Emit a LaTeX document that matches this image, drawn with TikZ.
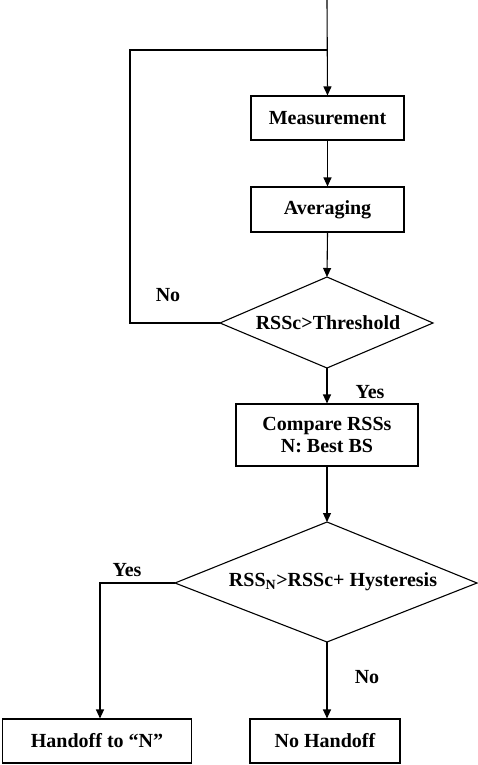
\documentclass[tikz,border=0pt]{standalone}
\usepackage{fontspec}
\setmainfont{Liberation Serif}
\usetikzlibrary{arrows.meta,shapes.geometric}
\begin{document}
\begin{tikzpicture}[x=1pt,y=-1pt,
  every node/.style={font=\fontsize{20}{22}\selectfont\bfseries},
  box/.style={draw,line width=1.1pt,rectangle,inner sep=0pt},
  lbl/.style={inner sep=0pt},
  line/.style={line width=1.1pt},
  arr/.style={line width=1.1pt,-{Triangle[length=9pt,width=8pt]}}]
\useasboundingbox (0,0) rectangle (478,765);
% boxes
\node[box,minimum width=153pt,minimum height=44pt] (meas) at (327.5,118) {Measurement};
\node[box,minimum width=153pt,minimum height=45pt] (avg) at (327.5,209.5) {Averaging};
\draw[line] (220,323) coordinate (d1l) -- (327,277) coordinate (d1t) -- (433,323) coordinate (d1r) -- (327,368) coordinate (d1b) -- cycle;
\node[lbl] (d1) at (328,323) {RSSc>Threshold};
\node[box,minimum width=182pt,minimum height=62pt,align=center] (cmp) at (327,435) {Compare RSSs\\N: Best BS};
\draw[line] (175,583) coordinate (d2l) -- (327,522) coordinate (d2t) -- (477,583) coordinate (d2r) -- (327,642) coordinate (d2b) -- cycle;
\node[lbl] (d2) at (333,582) {RSS\textsubscript{N}>RSSc+ Hysteresis};
\node[box,minimum width=189pt,minimum height=44pt] (ho) at (97,741) {Handoff to “N”};
\node[box,minimum width=150pt,minimum height=44pt] (nho) at (325,741) {No Handoff};
% connectors
\coordinate (top) at (327,0);
\coordinate (loop) at (327,50);
\coordinate (ltop) at (130,50);
\coordinate (lbot) at (130,323);
\draw[arr] (top) -- (meas.north);
\draw[arr] (meas.south) -- (avg.north);
\draw[arr] (avg.south) -- (d1t);
\draw[line] (d1l) -- (lbot) -- (ltop) -- (loop);
\draw[arr] (d1b) -- (cmp.north -| d1b);
\draw[arr] (cmp.south -| d2t) -- (d2t);
\coordinate (yl) at (100,583);
\draw[arr] (d2l) -- (yl) -- (ho.north -| yl);
\draw[arr] (d2b) -- (nho.north -| d2b);
% labels
\node[lbl] (no1) at (168,295) {No};
\node[lbl] (yes1) at (370,392) {Yes};
\node[lbl] (yes2) at (127,570) {Yes};
\node[lbl] (no2) at (367,677) {No};
\end{tikzpicture}
\end{document}
